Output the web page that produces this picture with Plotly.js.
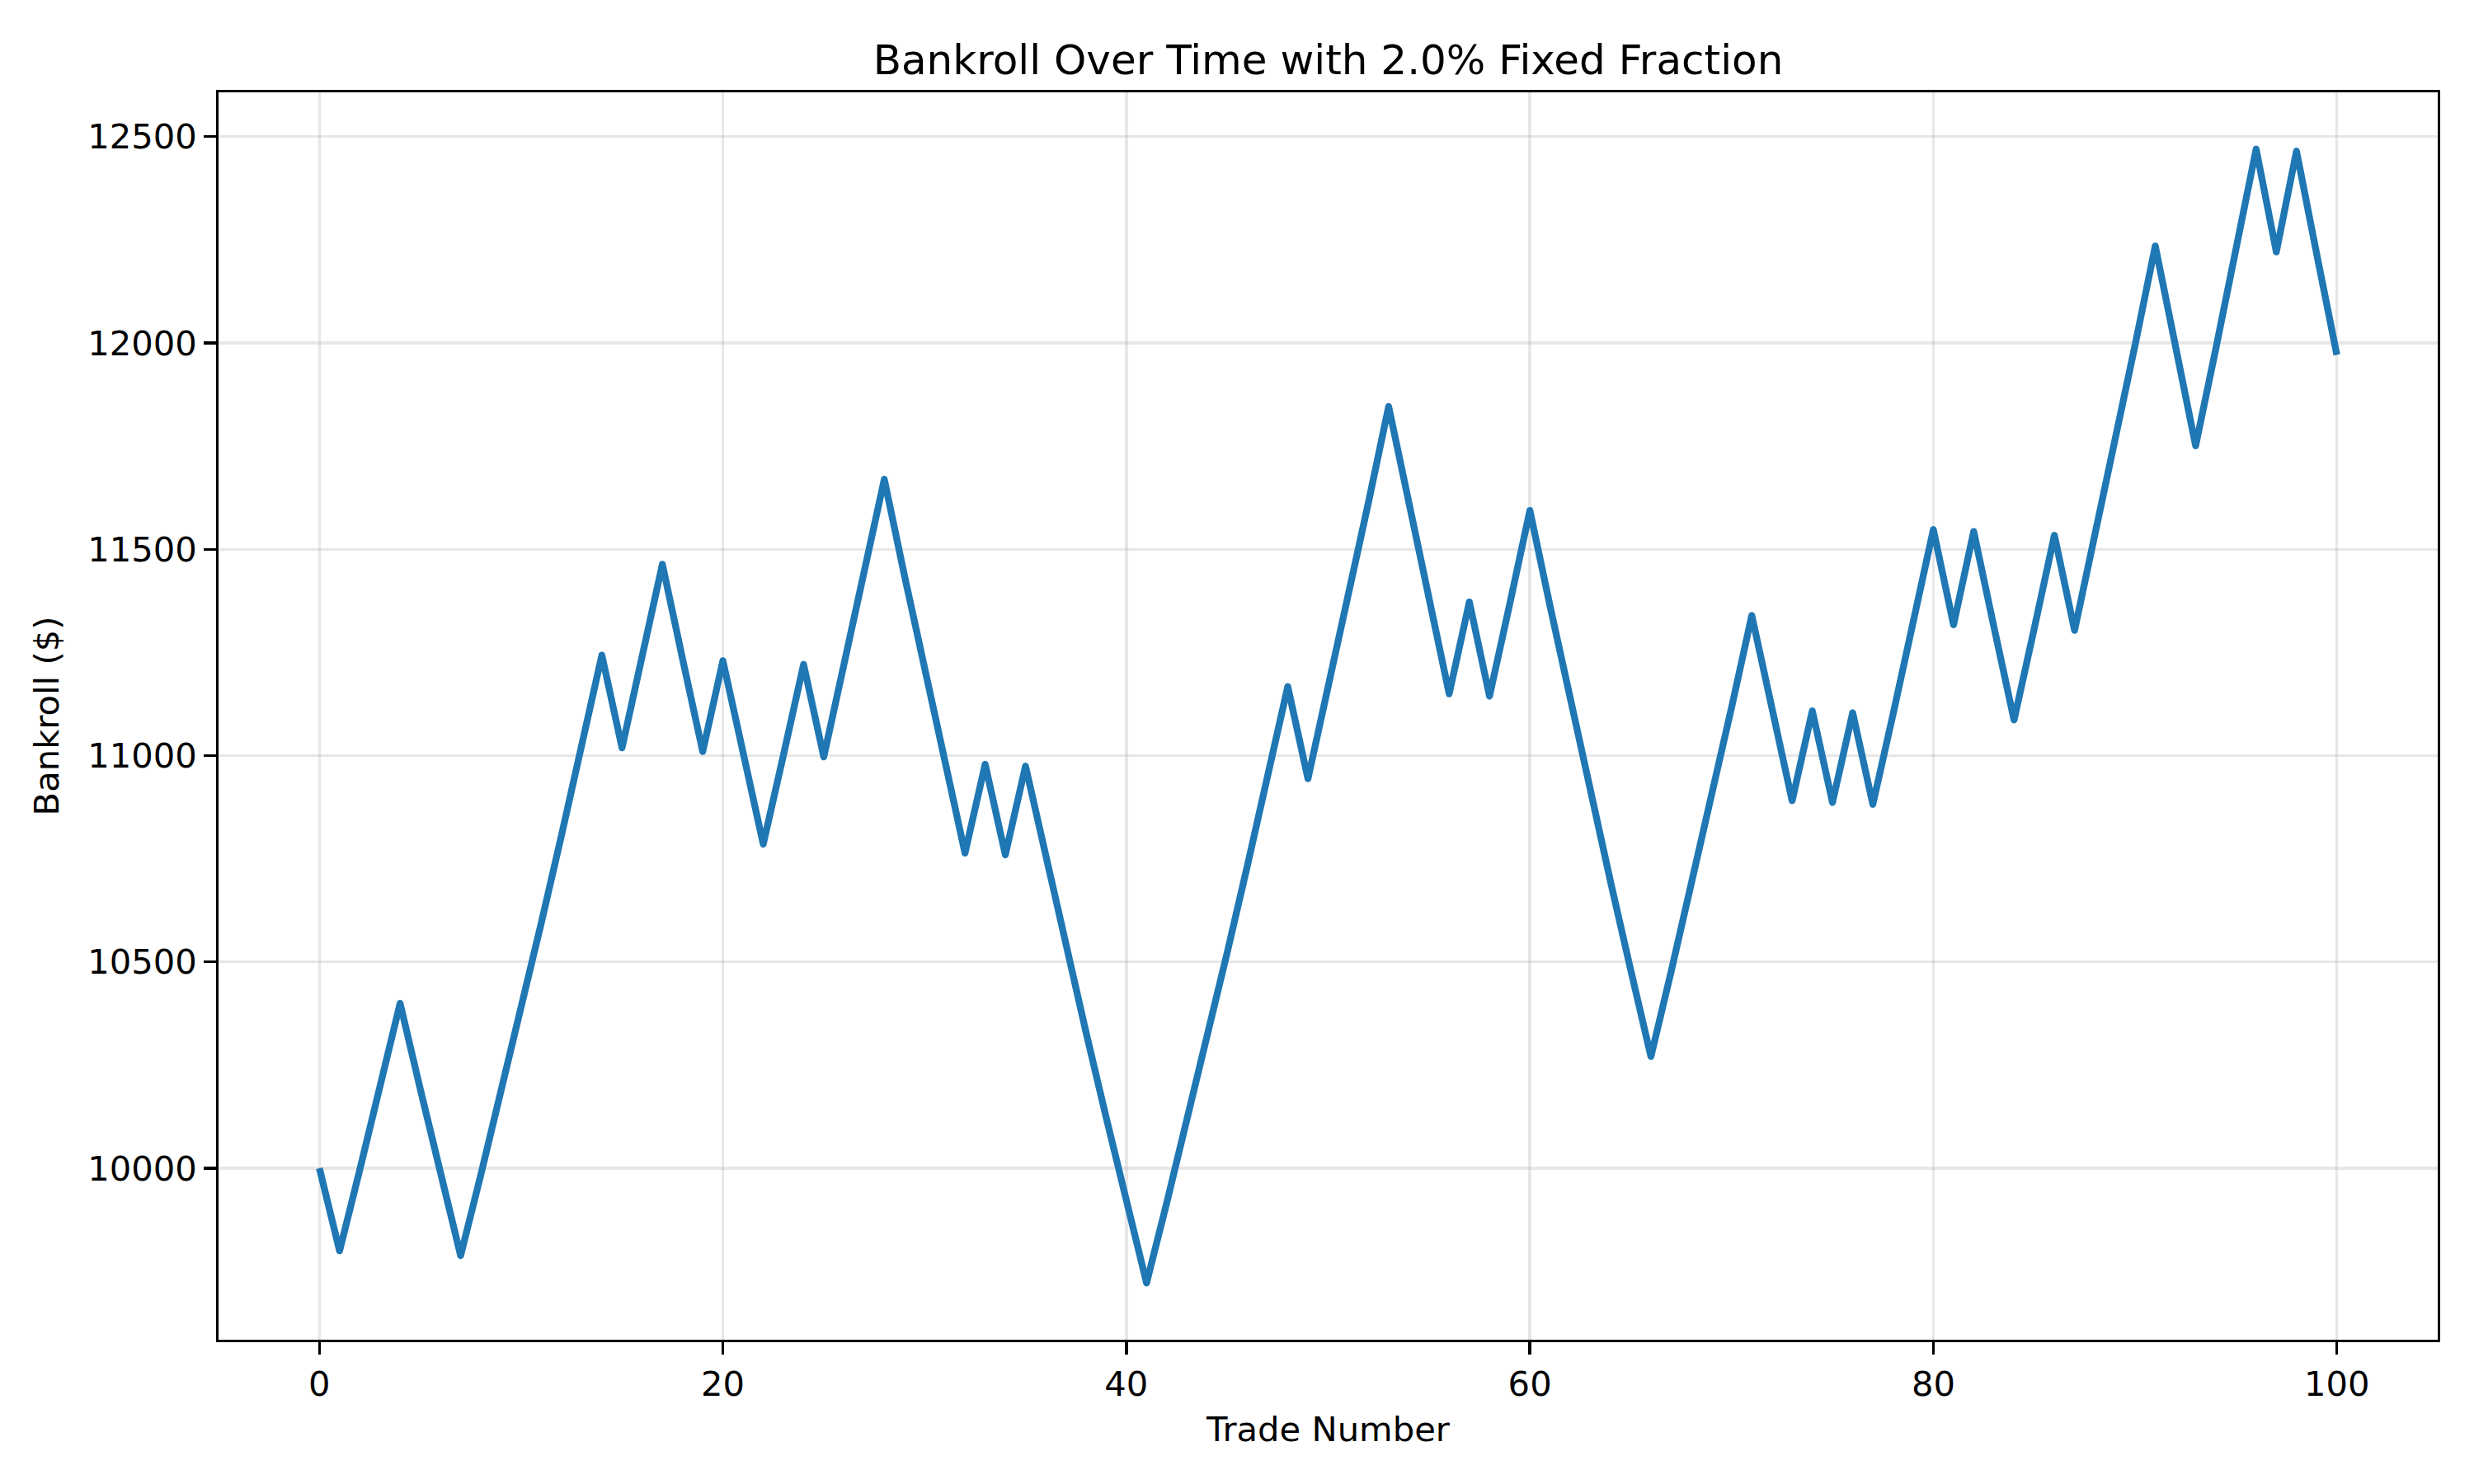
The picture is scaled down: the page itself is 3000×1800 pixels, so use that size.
<!DOCTYPE html>
<html>
<head>
<meta charset="utf-8">
<script src="https://cdn.plot.ly/plotly-3.0.1.min.js"></script>
<style>
  html, body { margin: 0; padding: 0; background: #ffffff; }
  #chart { width: 3000px; height: 1800px; }
  #chart .scatterlayer .js-line { stroke-linejoin: round !important; stroke-linecap: butt !important; }
</style>
</head>
<body>
<div id="chart"></div>
<script>
const tradeNumbers = [
  0, 1, 2, 3, 4, 5, 6, 7, 8, 9,
  10, 11, 12, 13, 14, 15, 16, 17, 18, 19,
  20, 21, 22, 23, 24, 25, 26, 27, 28, 29,
  30, 31, 32, 33, 34, 35, 36, 37, 38, 39,
  40, 41, 42, 43, 44, 45, 46, 47, 48, 49,
  50, 51, 52, 53, 54, 55, 56, 57, 58, 59,
  60, 61, 62, 63, 64, 65, 66, 67, 68, 69,
  70, 71, 72, 73, 74, 75, 76, 77, 78, 79,
  80, 81, 82, 83, 84, 85, 86, 87, 88, 89,
  90, 91, 92, 93, 94, 95, 96, 97, 98, 99,
  100
];

const bankroll = [
  10000.0, 9800.0, 9996.0, 10195.9, 10399.8, 10191.8, 9988.0, 9788.2, 9984.0, 10183.7,
  10387.4, 10595.1, 10807.0, 11023.1, 11243.6, 11018.7, 11239.1, 11463.9, 11234.6, 11009.9,
  11230.1, 11005.5, 10785.4, 11001.1, 11221.1, 10996.7, 11216.6, 11441.0, 11669.8, 11436.4,
  11207.7, 10983.5, 10763.8, 10979.1, 10759.5, 10974.7, 10755.2, 10540.1, 10329.3, 10122.7,
  9920.3, 9721.9, 9916.3, 10114.7, 10316.9, 10523.3, 10733.8, 10948.4, 11167.4, 10944.0,
  11162.9, 11386.2, 11613.9, 11846.2, 11609.3, 11377.1, 11149.5, 11372.5, 11144.1, 11367.0,
  11594.3, 11362.4, 11135.2, 10912.5, 10694.2, 10480.3, 10270.7, 10476.1, 10685.6, 10899.4,
  11117.3, 11339.7, 11112.9, 10890.6, 11108.5, 10886.3, 11104.0, 10881.9, 11099.6, 11321.6,
  11548.0, 11317.0, 11543.4, 11312.5, 11086.3, 11308.0, 11534.1, 11303.5, 11529.5, 11760.1,
  11995.3, 12235.2, 11990.5, 11750.7, 11985.7, 12225.4, 12470.0, 12220.6, 12465.0, 12215.7,
  11971.4
];

const xTickValues = [0, 20, 40, 60, 80, 100];
const yTickValues = [10000, 10500, 11000, 11500, 12000, 12500];

const FONT = "DejaVu Sans, Liberation Sans, sans-serif";

const trace = {
  x: tradeNumbers,
  y: bankroll,
  type: "scatter",
  mode: "lines",
  line: { color: "#1f77b4", width: 8.3 },
  hoverinfo: "x+y"
};

const axisCommon = {
  showline: true,
  linecolor: "#000000",
  linewidth: 3.3,
  mirror: true,
  ticks: "outside",
  ticklen: 14.6,
  tickwidth: 3.3,
  tickcolor: "#000000",
  showgrid: true,
  gridcolor: "rgba(176,176,176,0.3)",
  gridwidth: 3.3,
  zeroline: false,
  tickfont: { family: FONT, size: 41.7, color: "#000000" }
};

const layout = {
  width: 3000,
  height: 1800,
  paper_bgcolor: "#ffffff",
  plot_bgcolor: "#ffffff",
  showlegend: false,
  margin: { l: 265, r: 44, t: 112, b: 175, autoexpand: false },
  title: {
    text: "Bankroll Over Time with 2.0% Fixed Fraction",
    font: { family: FONT, size: 50, color: "#000000" },
    x: 0.5,
    xref: "paper",
    xanchor: "center",
    y: 1 - 72 / 1800,
    yref: "container",
    yanchor: "middle"
  },
  xaxis: Object.assign({}, axisCommon, {
    range: [-5, 105],
    tickmode: "array",
    tickvals: xTickValues,
    ticktext: xTickValues.map(String),
    title: {
      text: "Trade Number",
      font: { family: FONT, size: 41.7, color: "#000000" },
      standoff: 18
    }
  }),
  yaxis: Object.assign({}, axisCommon, {
    range: [9584.5, 12607.4],
    tickmode: "array",
    tickvals: yTickValues,
    ticktext: yTickValues.map(String),
    title: {
      text: "Bankroll ($)",
      font: { family: FONT, size: 41.7, color: "#000000" },
      standoff: 22
    }
  })
};

Plotly.newPlot("chart", [trace], layout, { displayModeBar: false, staticPlot: true });
</script>
</body>
</html>
